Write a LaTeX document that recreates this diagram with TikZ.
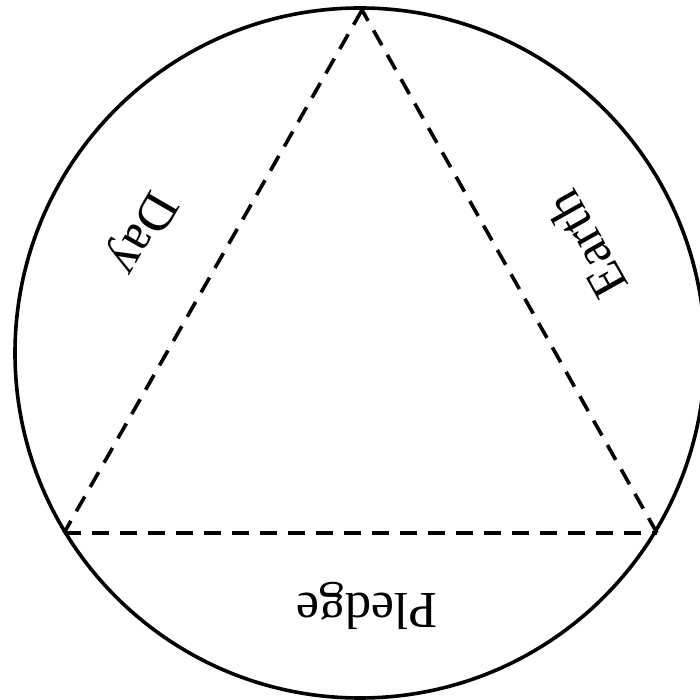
\documentclass[tikz,border=0pt]{standalone}
\usepackage{fontspec}
\setmainfont{Liberation Serif}
\begin{document}
\begin{tikzpicture}[x=1pt,y=1pt,
  ring/.style={line width=3.6pt},
  edge/.style={line width=3.6pt,dash pattern=on 17pt off 11pt},
  lbl/.style={font=\fontsize{52}{60}\selectfont,inner sep=0pt}]
\useasboundingbox (0,0) rectangle (700,700);
\coordinate (o) at (360,347);
\draw[ring] (o) circle (345);
\coordinate (t) at (362,690);
\coordinate (bl) at (64,167);
\coordinate (br) at (657,167);
\draw[edge] (t) -- (bl);
\draw[edge] (bl) -- (br);
\draw[edge] (br) -- (t);
\node[lbl,rotate=240] (day) at (140,468) {Day};
\node[lbl,rotate=119.3] (earth) at (586,455) {Earth};
\node[lbl,rotate=180] (pledge) at (367,94) {Pledge};
\end{tikzpicture}
\end{document}
